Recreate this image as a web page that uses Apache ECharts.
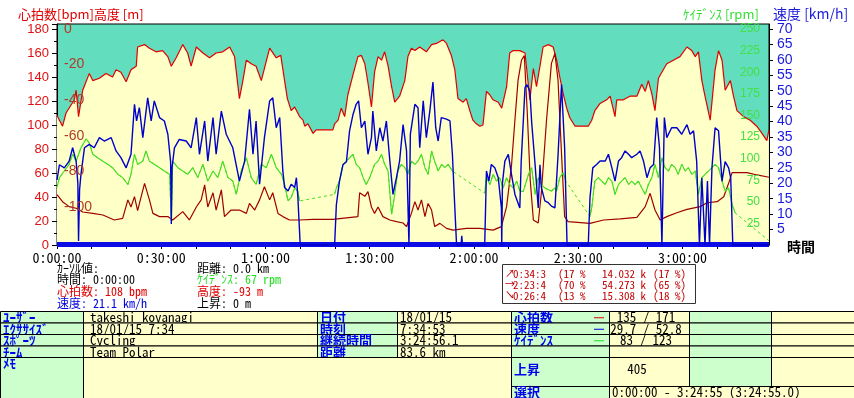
<!DOCTYPE html>
<html>
<head>
<meta charset="utf-8">
<title>Polar exercise</title>
<script src="https://cdn.jsdelivr.net/npm/echarts@6/dist/echarts.min.js"></script>
<style>
    html, body { margin: 0; padding: 0; background: #fff; }
    #polar_chart { width: 854px; height: 398px; }
</style>
</head>
<body>
<div id="polar_chart"></div>
<script>

// Data: [minute, value]
// ------------------------------

var hrPoints = [
    [0,108],[1.6,99],[2.6,110],[5.0,121],[5.5,129],[6.2,107],[7.4,129],[9.3,143],[10.3,137],[12.2,139],
    [14.1,143],[16.0,140],[17.0,146],[18.4,144],[19.9,136],[21.3,146],[22.8,149],[23.2,165],[25.2,167],[26.6,164],
    [28.5,161],[30.4,162],[31.9,157],[32.9,149],[34.3,156],[36.2,167],[37.6,160],[38.6,149],[40.1,165],[42.0,160],
    [43.9,156],[45.8,160],[47.7,161],[49.7,165],[51.1,157],[52.5,122],[53.5,137],[54.5,154],[55.9,151],[57.3,149],
    [58.8,137],[61.2,164],[63.1,156],[64.4,158],[65.5,137],[66.3,122],[67.4,112],[68.4,115],[69.3,110],[69.8,107],
    [70.8,104],[71.3,99],[72.2,101],[73.7,93],[74.6,96],[76.5,96],[79.4,96],[79.9,101],[80.9,104],[81.8,114],
    [82.8,107],[83.7,125],[85.2,142],[86.6,157],[87.6,158],[88.6,151],[89.5,135],[90.5,115],[91.4,144],[92.4,157],
    [93.4,154],[94.3,161],[95.3,149],[96.3,132],[97.2,119],[98.6,124],[100.1,137],[101.0,157],[102.0,164],[103.0,162],
    [104.4,165],[106.3,161],[107.8,167],[109.2,168],[111.1,171],[112.1,168],[113.5,158],[114.5,146],[115.4,122],[116.9,119],
    [117.8,122],[118.8,112],[119.7,104],[120.7,101],[121.7,99],[122.6,100],[123.6,128],[124.6,125],[125.5,121],[127.0,119],
    [128.0,114],[129.4,132],[130.3,160],[131.3,162],[133.2,162],[134.7,160],[135.2,146],[136.1,121],[137.1,147],[138.0,132],
    [139.0,149],[139.9,165],[141.4,167],[142.8,165],[143.8,154],[144.7,140],[145.7,126],[146.7,114],[147.6,106],[149.1,99],
    [151.0,99],[152.9,99],[153.9,104],[154.8,112],[156.3,118],[158.2,121],[159.2,124],[160.6,107],[161.1,121],[163.0,121],
    [164.9,124],[166.9,124],[168.3,134],[169.3,128],[170.2,137],[171.2,126],[172.1,112],[173.1,139],[174.5,146],[175.5,151],
    [177.4,154],[179.3,157],[181.3,165],[182.7,162],[183.7,157],[184.6,161],[185.6,137],[186.5,124],[188.0,104],[189.4,146],
    [190.4,162],[191.4,154],[192.3,129],[193.8,137],[194.7,124],[195.7,112],[197.6,107],[199.5,104],[201.4,99],[202.9,93],
    [204.3,87],[204.9,96]
];

var speedPoints = [
    [0,21.1],[0.7,26],[2.1,25],[3.5,27.2],[4.5,31.5],[5.5,27.2],[6.0,20],[6.2,1.3],[6.5,18],[6.9,22.9],
    [7.9,31.5],[9.3,32.6],[10.7,31.5],[12.2,34.8],[13.6,33.7],[15.6,34.8],[17.0,30.5],[18.4,28.3],[19.9,25],[21.3,29.4],
    [22.3,45.6],[22.9,40.2],[23.7,44.5],[24.7,34.8],[26.1,47.7],[27.1,40.2],[28.0,46.7],[29.5,41.3],[30.9,40.2],[31.9,35.9],
    [32.7,27],[32.9,6.8],[33.1,25],[33.8,31.5],[35.2,34.2],[37.2,33.7],[38.6,31.5],[40.1,41.3],[41.0,29.4],[42.5,40.2],
    [43.4,27.2],[44.9,41.3],[45.8,29.4],[47.3,43.4],[48.7,35.9],[50.6,31.5],[52.5,20.7],[54.0,27.2],[55.4,44],[56.4,29.4],
    [57.3,40.2],[58.3,19.7],[59.7,34.8],[61.2,46.7],[62.1,47.7],[63.1,38],[64.1,41.3],[65.0,24],[65.5,18.6],[66.5,17.5],
    [67.4,19.7],[68.4,18.6],[68.9,21.8],[69.3,16],[70.0,0],[79.9,0],[80.4,13],[81.3,20.7],[82.3,26],[83.3,27],
    [84.2,37],[85.2,42.3],[86.1,45.6],[86.8,46.7],[87.6,38],[88.6,40.2],[89.5,29.4],[90.5,34.8],[90.9,43.4],[91.9,30.5],
    [92.9,38],[93.8,33.7],[94.8,40.2],[95.8,27.2],[96.7,16.4],[97.7,21.8],[98.6,27.2],[99.6,39],[100.6,30.5],[101.3,0],
    [101.7,35.9],[103.0,45.6],[103.9,44.5],[104.4,31.5],[105.4,46.7],[106.3,34.8],[107.3,43.4],[108.2,52.8],[109.0,38],[109.7,33.7],
    [110.6,41.3],[112.1,40.8],[113.1,40.2],[113.8,29.4],[114.5,12],[115.0,0],[116.3,0],[116.5,3],[116.7,0],[123.1,0],
    [123.6,24],[124.3,20.7],[125.0,26.1],[126.0,25],[127.0,21.8],[127.9,12],[128.0,0],[128.2,20],[128.9,27.2],[129.9,29.4],
    [130.8,22.9],[131.8,16.4],[133.2,12],[133.6,27],[134.7,51],[135.2,52],[136.1,49.9],[136.6,40],[137.6,26],[138.5,12],
    [139.0,26],[139.4,18.6],[140.4,14.3],[141.4,13.7],[142.3,12.6],[143.3,12],[144.2,29],[145.2,52],[146.1,31.5],[146.8,0],
    [152.9,0],[153.4,15.3],[154.2,25],[155.3,26.1],[156.3,27.2],[157.8,27.2],[158.7,29.4],[159.7,25],[160.6,20.7],[161.6,27.2],
    [162.5,28.3],[163.5,30.5],[164.5,29.4],[165.4,28.3],[166.9,29.4],[167.8,30.5],[168.8,27.2],[169.8,21.8],[170.7,25],[171.7,26.1],
    [172.6,41.3],[173.4,31.5],[174.1,0],[174.8,41.3],[175.5,34.8],[176.9,38],[178.4,38],[179.8,35.9],[181.3,39],[182.2,35.9],
    [183.2,37],[184.1,27.2],[184.9,0],[185.6,21.8],[186.5,0],[187.2,20.7],[187.8,0],[188.5,25],[189.4,38],[190.4,37],
    [191.4,20.7],[192.3,27],[193.3,25],[193.9,21.8],[194.5,0],[204.9,0]
];

// '-' marks a stretch with no cadence signal (drawn dashed)
var cadencePoints = [
    [0,67],[0.7,78],[2.1,85.6],[3.5,93.4],[4.5,105],[5.5,97],[6.9,112.6],[8.4,123],[9.3,118],[10.3,105],
    [11.7,101],[13.2,97],[14.6,93.4],[16.0,89.5],[17.5,81.8],[18.9,78],[20.4,70],[21.3,81.8],[22.3,105],[23.2,93.4],
    [24.7,97],[25.6,109],[26.6,97],[28.0,93.4],[29.5,89.5],[30.9,85.6],[32.4,81.8],[32.9,28],[33.3,97],[34.8,89.5],
    [36.2,85.6],[37.6,81.8],[39.1,89.5],[40.5,78],[42.0,93.4],[43.4,74],[44.9,85.6],[46.3,78],[47.7,97],[49.2,78],
    [50.6,74],[51.6,58.6],[53.0,85.6],[54.5,101],[55.9,78],[57.3,70],[58.8,93.4],[60.2,89.5],[61.7,105],[63.1,89.5],
    [64.6,81.8],[65.5,70],[66.5,51],[67.4,55],[68.4,66],[69.3,62],[69.8,51],[75,'-'],[79.9,58.6],[80.4,66],
    [81.3,74],[82.3,93.4],[83.3,97],[84.2,101],[85.2,105],[86.1,93.4],[87.1,89.5],[88.1,78],[89.0,70],[90.0,78],
    [91.4,93.4],[92.4,97],[93.4,105],[94.3,93.4],[95.3,85.6],[96.3,35.5],[97.2,58.6],[98.1,85.6],[99.1,93.4],[100.1,89.5],
    [101.0,81.8],[102.0,97],[103.0,93.4],[103.9,97],[104.9,105],[105.9,89.5],[106.8,81.8],[107.8,108.8],[108.7,97],[109.7,85.6],
    [110.7,93.4],[111.6,89.5],[112.6,93.4],[113.5,87.5],[114.0,85],[118,'-'],[123.1,60],[123.6,78],[124.6,70],[125.5,81.8],
    [126.5,74],[127.4,78],[128.4,66],[129.4,78],[130.3,70],[131.3,66],[132.3,74],[133.2,62.5],[134.2,62],[135.7,81.8],
    [136.6,89.5],[137.6,58.6],[138.5,78],[139.4,70],[140.4,66],[141.4,64],[142.3,62.5],[143.3,66],[143.8,62.5],[144.7,78],
    [145.7,83.7],[146.4,74],[150,'-'],[153.4,33],[153.9,43],[154.8,74],[155.8,78],[156.8,74],[157.8,70],[158.7,78],
    [159.7,74],[160.6,58.6],[161.6,70],[162.5,74],[163.5,78],[164.5,70],[165.4,74],[166.4,70],[167.3,74],[168.3,66],
    [169.3,58.6],[170.2,70],[171.2,78],[172.1,93.4],[173.1,78],[174.1,101],[175.0,89.5],[176.0,85.6],[176.9,93.4],[177.9,89.5],
    [178.8,81.8],[179.8,93.4],[180.8,85.6],[181.7,89.5],[182.7,81.8],[183.7,85.6],[184.6,58.6],[185.6,78],[186.5,81.8],[187.5,85.6],
    [188.5,89.5],[189.4,93.4],[190.4,89.5],[191.4,74],[192.3,62.5],[193.3,66],[194.3,47],[195.2,37],[200,'-'],[204.9,5]
];

var altitudePoints = [
    [0,-93],[1.6,-97],[3.5,-99.8],[5.5,-100.7],[7.4,-102.8],[10.3,-103.6],[13.2,-104.5],[16.5,-107.3],[18.9,-106.4],[20.4,-96],
    [21.3,-100],[22.3,-94.2],[23.2,-102],[25.2,-86.7],[26.6,-96],[27.6,-103.6],[29.5,-105.4],[31.9,-105.4],[33.3,-107.3],[36.2,-102.6],
    [38.1,-107.3],[40.1,-100],[41.5,-96],[42.5,-87.6],[43.4,-100],[44.9,-92],[45.8,-101.7],[47.3,-90.4],[48.2,-105.4],[50.1,-101.7],
    [52.5,-101.7],[54.5,-103.6],[55.4,-98],[56.9,-101.7],[58.3,-96],[59.7,-88.6],[61.2,-96],[62.1,-92],[63.6,-103.6],[65.0,-105.4],
    [66.9,-107.3],[69.8,-107.3],[73.7,-107],[79.4,-107],[86.6,-105.4],[87.1,-92],[88.6,-94],[89.5,-91.4],[90.5,-100],[91.4,-103.6],
    [92.4,-100],[93.8,-105.4],[95.8,-107.3],[97.7,-108.2],[99.6,-109],[100.6,-111],[102.0,-103.6],[103.0,-97],[103.9,-101.7],[104.9,-96],
    [105.9,-105.4],[106.8,-98],[107.8,-101.7],[108.7,-111],[110.2,-109.2],[112.1,-112],[114.0,-113],[117.8,-112],[121.7,-112],[125.5,-113],
    [127.9,-111],[129.4,-99.8],[130.8,-77],[131.8,-51],[132.7,-28.7],[133.7,-17.4],[134.5,-15],[135.3,-45],[136.2,-85],[137.1,-107.3],
    [138.5,-109],[139.4,-92],[140.9,-51],[142.3,-19.3],[143.3,-13.7],[144.2,-28.7],[145.2,-70],[146.1,-105.4],[147.1,-108.2],[153.4,-109.2],
    [157.3,-107.3],[162.1,-106.7],[166.9,-105.8],[169.3,-99.8],[170.7,-92.3],[172.1,-101.7],[173.6,-107.3],[175.5,-105.4],[178.4,-103.2],[181.3,-101.3],
    [185.1,-99.8],[187.1,-97.6],[190.0,-97],[191.9,-94.2],[193.3,-86.7],[194.3,-80.7],[198.6,-80.7],[201.5,-82],[204.9,-83.3]
];

var durationMin = 204.92;       // 3:24:55
var hrAvg = 135, hrMax = 171;

// Texts below the plot
var cursorLeft = [['ｶｰｿﾙ値:', '#000'], ['時間: 0:00:00', '#000'], ['心拍数: ' + hrPoints[0][1] + ' bpm', '#e00000'], ['速度: ' + speedPoints[0][1] + ' km/h', '#0000dd']];
var cursorRight = [['距離: 0.0 km', '#000'], ['ｹｲﾃﾞﾝｽ: ' + cadencePoints[0][1] + ' rpm', '#22dd22'], ['高度: ' + altitudePoints[0][1] + ' m', '#e00000'], ['上昇: 0 m', '#000']];

var lapArrows = ['↗', '→', '↘'];
var lapTimes = ['0:34:3', '2:23:4', '0:26:4'];
var lapTimePct = ['(17 %', '(70 %', '(13 %'];
var lapDist = ['14.032 k', '54.273 k', '15.308 k'];
var lapDistPct = ['(17 %)', '(65 %)', '(18 %)'];

// Summary table: [col, colSpan, row, rowSpan, kind, text, extra]
var tableCols = [0, 83, 317, 397, 511, 609, 689, 771, 854];
var tableRows = [311, 322.5, 334, 345.5, 357, 386, 398];
var tableCells = [
    [0,1,0,1,'label','ﾕｰｻﾞｰ'], [1,1,0,1,'value','takeshi koyanagi'], [2,1,0,1,'label','日付'], [3,1,0,1,'value','18/01/15'],
    [4,1,0,1,'label','心拍数','#e00000'], [5,1,0,1,'center', hrAvg + ' / ' + hrMax], [6,1,0,1,'label',''], [7,1,0,1,'value',''],
    [0,1,1,1,'label','ｴｸｻｻｲｽﾞ'], [1,1,1,1,'value','18/01/15 7:34'], [2,1,1,1,'label','時刻'], [3,1,1,1,'value','7:34:53'],
    [4,1,1,1,'label','速度','#0000dd'], [5,1,1,1,'center','29.7 / 52.8'], [6,1,1,1,'label',''], [7,1,1,1,'value',''],
    [0,1,2,1,'label','ｽﾎﾟｰﾂ'], [1,1,2,1,'value','Cycling'], [2,1,2,1,'label','継続時間'], [3,1,2,1,'value','3:24:56.1'],
    [4,1,2,1,'label','ｹｲﾃﾞﾝｽ','#22dd22'], [5,1,2,1,'center','83 / 123'], [6,1,2,1,'label',''], [7,1,2,1,'value',''],
    [0,1,3,1,'label','ﾁｰﾑ'], [1,1,3,1,'value','Team Polar'], [2,1,3,1,'label','距離'], [3,1,3,1,'value','83.6 km'],
    [4,1,3,1,'label',''], [5,1,3,1,'value',''], [6,1,3,1,'label',''], [7,1,3,1,'value',''],
    [0,1,4,2,'memo','ﾒﾓ'], [1,3,4,2,'value',''],
    [4,1,4,1,'label','上昇'], [5,1,4,1,'center','405'], [6,1,4,1,'label',''], [7,1,4,1,'value',''],
    [4,1,5,1,'label','選択'], [5,3,5,1,'value','0:00:00 - 3:24:55 (3:24:55.0)']
];


// Setup module
// ------------------------------

var PolarExercise = function() {

    var MONO = "'Noto Sans Mono CJK JP', 'Liberation Mono', monospace";
    var CJK = "'Noto Sans CJK JP', 'Liberation Sans', sans-serif";
    var SANS = "'Liberation Sans', Arial, sans-serif";

    var text = function(x, y, str, color, font, align) {
        return {
            type: 'text', x: x, y: y, silent: true,
            style: {
                text: str, fill: color, font: font,
                align: align || 'left', verticalAlign: 'middle',
                textAlign: align || 'left', textVerticalAlign: 'middle'
            }
        };
    };

    var timeLabel = function(v) {
        var m = Math.round(v);
        if (m % 30 !== 0) return '';
        var h = Math.floor(m / 60), mm = m % 60;
        return h + ':' + (mm < 10 ? '0' : '') + mm + ':00';
    };

    var _buildGraphics = function() {
        var g = [];

        // Axis titles
        g.push(text(18, 14, '心拍数[bpm]高度 [m]', '#e00000', '13px ' + CJK));
        g.push(text(683, 14, 'ｹｲﾃﾞﾝｽ [rpm]', '#33dd33', '13px ' + CJK));
        g.push(text(773, 14, '速度 [km/h]', '#1a1add', '14px ' + CJK));
        g.push(text(787, 247, '時間', '#000', 'bold 14px ' + CJK));
        g.push(text(390, 233, hrAvg + ' bpm', '#111', '13px ' + MONO));

        // Cursor values
        cursorLeft.forEach(function(r, i) {
            g.push(text(57, 268 + i * 11.7, r[0], r[1], '12px ' + MONO));
        });
        cursorRight.forEach(function(r, i) {
            g.push(text(197, 268 + i * 11.7, r[0], r[1], '12px ' + MONO));
        });

        // Lap box
        g.push({ type: 'rect', silent: true, shape: { x: 502.5, y: 264.5, width: 193, height: 39 },
            style: { fill: '#fff', stroke: '#333', lineWidth: 1 } });
        lapTimes.forEach(function(t, i) {
            var y = 273.5 + i * 11;
            g.push(text(505, y, lapArrows[i], '#c00000', '10px ' + CJK));
            g.push(text(513, y, t, '#c00000', '11px ' + MONO));
            g.push(text(558, y, lapTimePct[i], '#c00000', '11px ' + MONO));
            g.push(text(602, y, lapDist[i], '#c00000', '11px ' + MONO));
            g.push(text(653, y, lapDistPct[i], '#c00000', '11px ' + MONO));
        });

        // Summary table
        tableCells.forEach(function(c) {
            var x0 = tableCols[c[0]], x1 = tableCols[c[0] + c[1]];
            var y0 = tableRows[c[2]], y1 = tableRows[c[2] + c[3]];
            var isLabel = c[4] === 'label' || c[4] === 'memo';
            g.push({ type: 'rect', silent: true,
                shape: { x: x0 + 0.5, y: y0 + 0.5, width: x1 - x0, height: y1 - y0 },
                style: { fill: isLabel ? '#ccffcc' : '#ffffcc', stroke: '#000', lineWidth: 1 } });
            if (!c[5]) return;
            var ym = c[4] === 'memo' ? y0 + 6 : (y0 + y1) / 2 + 0.5;
            if (c[2] === 4 && c[4] !== 'memo') ym = y0 + 12;
            if (isLabel) {
                g.push(text(x0 + 3, ym, c[5], '#0000ee', 'bold 13px ' + CJK));
                if (c[6]) {
                    g.push({ type: 'line', silent: true, shape: { x1: 594, y1: ym + 0.5, x2: 604, y2: ym + 0.5 },
                        style: { stroke: c[6], lineWidth: 1 } });
                }
            } else if (c[4] === 'center') {
                g.push(text(c[5] === '405' ? 637 : (x0 + x1) / 2 - 3, ym, c[5], '#000', '13px ' + MONO, 'center'));
            } else {
                g.push(text(x0 + (c[0] === 1 ? 7 : 3), ym, c[5], '#000', '13px ' + MONO));
            }
        });

        return g;
    };

    var _polarChart = function() {
        if (typeof echarts == 'undefined') {
            console.warn('Warning - echarts.min.js is not loaded.');
            return;
        }

        var chart_element = document.getElementById('polar_chart');
        if (!chart_element) return;

        var chart = echarts.init(chart_element);

        chart.setOption({
            animation: false,
            backgroundColor: '#fff',

            // Main plot and an altitude overlay with its own scale
            grid: [
                { left: 57, top: 24, width: 712, height: 221, show: true,
                  backgroundColor: '#62ddbd', borderColor: '#000', borderWidth: 1 },
                { left: 57, top: 29, width: 712, height: 213.6 }
            ],

            xAxis: [{
                gridIndex: 0, type: 'value', min: 0, max: durationMin, interval: 10,
                axisLine: { show: true, lineStyle: { color: '#000' } },
                axisTick: { show: true, length: 4, lineStyle: { color: '#000' } },
                axisLabel: { color: '#000', fontFamily: MONO, fontSize: 14, margin: 6,
                    showMaxLabel: false, formatter: timeLabel },
                splitLine: { show: false }
            }, {
                gridIndex: 1, type: 'value', min: 0, max: durationMin, show: false
            }],

            yAxis: [{
                // heart rate
                gridIndex: 0, type: 'value', position: 'left', min: 0, max: 184.17, interval: 20,
                axisLine: { show: true, lineStyle: { color: '#000' } },
                axisTick: { show: true, length: 5, lineStyle: { color: '#000' } },
                minorTick: { show: true, splitNumber: 2, length: 3, lineStyle: { color: '#000' } },
                axisLabel: { color: '#e01010', fontFamily: SANS, fontSize: 13, margin: 8, showMaxLabel: false },
                splitLine: { show: false }
            }, {
                // cadence, labels drawn over the curves
                gridIndex: 0, type: 'value', position: 'right', min: 0, max: 255.8, interval: 25, z: 20,
                axisLine: { show: false }, axisTick: { show: false },
                axisLabel: { inside: true, color: '#44e044', fontFamily: SANS, fontSize: 12, margin: 9,
                    showMinLabel: false, showMaxLabel: false },
                splitLine: { show: false }
            }, {
                // speed
                gridIndex: 0, type: 'value', position: 'right', min: 0, max: 71.62, interval: 5,
                axisLine: { show: true, lineStyle: { color: '#000' } },
                axisTick: { show: true, length: 4, lineStyle: { color: '#000' } },
                axisLabel: { color: '#1a1add', fontFamily: SANS, fontSize: 14, margin: 8,
                    showMinLabel: false, showMaxLabel: false },
                splitLine: { show: false }
            }, {
                // altitude, labels drawn over the curves
                gridIndex: 1, type: 'value', position: 'left', min: -120, max: 0, interval: 20, z: 20,
                axisLine: { show: false }, axisTick: { show: false },
                axisLabel: { inside: true, color: '#b03a2a', fontFamily: SANS, fontSize: 14, margin: 7,
                    showMinLabel: false },
                splitLine: { show: false }
            }],

            series: [{
                name: '心拍数', type: 'line', xAxisIndex: 0, yAxisIndex: 0,
                data: hrPoints, symbol: 'none', z: 1,
                lineStyle: { color: '#e00000', width: 1.2 },
                areaStyle: { color: '#ffffc8', opacity: 1 }
            }, {
                name: '高度', type: 'line', xAxisIndex: 1, yAxisIndex: 3,
                data: altitudePoints, symbol: 'none', z: 2,
                lineStyle: { color: '#a00000', width: 1.2 }
            }, {
                name: 'ｹｲﾃﾞﾝｽ gap', type: 'line', xAxisIndex: 0, yAxisIndex: 1,
                data: cadencePoints, symbol: 'none', connectNulls: true, z: 3,
                lineStyle: { color: '#44dd22', width: 1, type: [3, 3] }
            }, {
                name: 'ｹｲﾃﾞﾝｽ', type: 'line', xAxisIndex: 0, yAxisIndex: 1,
                data: cadencePoints, symbol: 'none', connectNulls: false, z: 4,
                lineStyle: { color: '#44dd22', width: 1.1 }
            }, {
                name: '速度', type: 'line', xAxisIndex: 0, yAxisIndex: 2,
                data: speedPoints, symbol: 'none', z: 5, clip: false,
                lineStyle: { color: '#0000cc', width: 1.4 },
                markLine: {
                    silent: true, symbol: ['none', 'none'], label: { show: false },
                    lineStyle: { color: '#0d0de6', width: 5, type: 'solid' },
                    data: [{ yAxis: 0.3 }]
                }
            }],

            graphic: _buildGraphics()
        });
    };

    return {
        init: function() {
            _polarChart();
        }
    };
}();


// Initialize module
// ------------------------------

document.addEventListener('DOMContentLoaded', function() {
    PolarExercise.init();
});
</script>
</body>
</html>
